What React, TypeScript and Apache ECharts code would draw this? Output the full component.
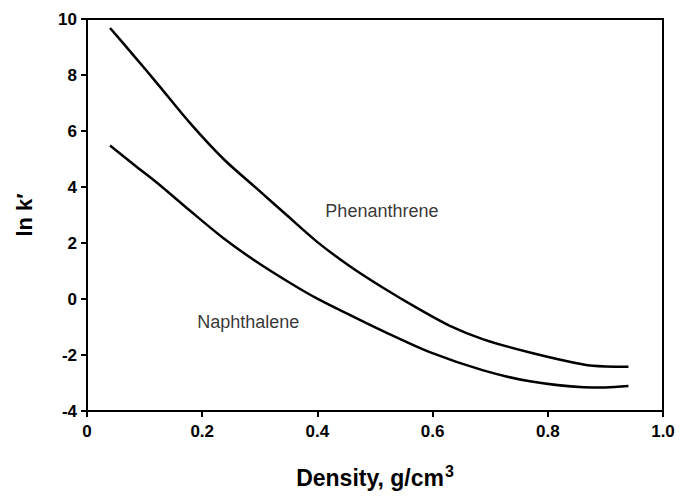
import React, { useEffect, useRef } from "react";
import * as echarts from "echarts";

const xTicks = [0, 0.2, 0.4, 0.6, 0.8, 1.0];
const yTicks = [-4, -2, 0, 2, 4, 6, 8, 10];

const phenX = [0.04, 0.08, 0.121, 0.179, 0.237, 0.295, 0.347, 0.399, 0.457, 0.514, 0.572, 0.63, 0.688, 0.769, 0.862, 0.9, 0.94];
const phenY = [9.68, 8.72, 7.72, 6.28, 5.0, 3.94, 2.99, 2.05, 1.16, 0.4, -0.31, -0.96, -1.44, -1.91, -2.34, -2.41, -2.42];

const naphX = [0.04, 0.08, 0.121, 0.179, 0.237, 0.295, 0.352, 0.399, 0.457, 0.514, 0.595, 0.688, 0.769, 0.862, 0.9, 0.94];
const naphY = [5.48, 4.82, 4.16, 3.15, 2.17, 1.32, 0.58, 0.02, -0.58, -1.15, -1.9, -2.55, -2.94, -3.15, -3.16, -3.11];

const labelNames = ["Phenanthrene", "Naphthalene"];
const labelX = [0.512, 0.28];
const labelY = [3.13, -0.81];

const FONT = '"Liberation Sans", Arial, Helvetica, sans-serif';

export default function App() {
  const ref = useRef<HTMLDivElement>(null);
  useEffect(() => {
    document.body.style.margin = "0";
    const chart = echarts.init(ref.current!, undefined, { renderer: "svg" });
    const zip = (xs: number[], ys: number[]) => xs.map((x, i) => [x, ys[i]]);
    chart.setOption({
      animation: false,
      backgroundColor: "#fff",
      textStyle: { fontFamily: FONT, color: "#000" },
      grid: {
        left: 87,
        right: 18,
        top: 19,
        bottom: 82,
        show: true,
        borderColor: "#000",
        borderWidth: 2,
        backgroundColor: "transparent",
      },
      xAxis: {
        type: "value",
        min: xTicks[0],
        max: xTicks[xTicks.length - 1],
        interval: 0.2,
        name: "{a|Density, g/cm}{s|3}",
        nameLocation: "middle",
        nameGap: 52,
        nameTextStyle: {
          rich: {
            a: { fontSize: 23, fontWeight: "bold", fontFamily: FONT, color: "#000", verticalAlign: "bottom", lineHeight: 26 },
            s: { fontSize: 16, fontWeight: "bold", fontFamily: FONT, color: "#000", verticalAlign: "top", padding: [0, 0, 12, 1], lineHeight: 26 },
          },
        },
        axisLine: { onZero: false, lineStyle: { color: "#000", width: 2 } },
        axisTick: { show: true, inside: false, length: 6, lineStyle: { color: "#000", width: 2 } },
        axisLabel: {
          fontSize: 17,
          fontWeight: "bold",
          color: "#000",
          fontFamily: FONT,
          margin: 12,
          formatter: (v: number) => (v === 0 ? "0" : v.toFixed(1)),
        },
        splitLine: { show: false },
      },
      yAxis: {
        type: "value",
        min: yTicks[0],
        max: yTicks[yTicks.length - 1],
        interval: 2,
        name: "ln k\u2032",
        nameLocation: "middle",
        nameGap: 52,
        nameRotate: 90,
        nameTextStyle: { fontSize: 22, fontWeight: "bold", color: "#000", fontFamily: FONT },
        axisLine: { onZero: false, lineStyle: { color: "#000", width: 2 } },
        axisTick: { show: true, inside: false, length: 6, lineStyle: { color: "#000", width: 2 } },
        axisLabel: { fontSize: 17, fontWeight: "bold", color: "#000", fontFamily: FONT, margin: 10 },
        splitLine: { show: false },
      },
      series: [
        {
          type: "line",
          name: "Phenanthrene",
          data: zip(phenX, phenY),
          smooth: 0.3,
          symbol: "none",
          lineStyle: { color: "#000", width: 2.5 },
        },
        {
          type: "line",
          name: "Naphthalene",
          data: zip(naphX, naphY),
          smooth: 0.3,
          symbol: "none",
          lineStyle: { color: "#000", width: 2.5 },
        },
        {
          type: "scatter",
          symbolSize: 0,
          silent: true,
          data: labelNames.map((n, i) => ({ value: [labelX[i], labelY[i]], name: n })),
          label: {
            show: true,
            position: "inside",
            formatter: (p: any) => p.name,
            fontSize: 18,
            color: "#000",
            fontFamily: FONT,
          },
        },
      ],
    });
    return () => chart.dispose();
  }, []);
  return <div ref={ref} style={{ width: 681, height: 496 }} />;
}
